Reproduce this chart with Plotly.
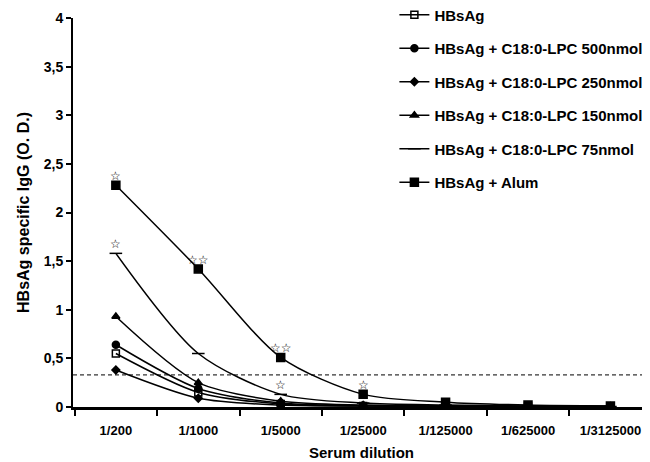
import plotly.graph_objects as go

categories = ["1/200", "1/1000", "1/5000", "1/25000", "1/125000", "1/625000", "1/3125000"]
hbsag = [0.55, 0.15, 0.03, 0.01, 0.01, 0.005, 0.005]
lpc500 = [0.64, 0.19, 0.04, 0.015, 0.01, 0.005, 0.005]
lpc250 = [0.38, 0.09, 0.02, 0.01, 0.005, 0.005, 0.005]
lpc150 = [0.93, 0.25, 0.06, 0.02, 0.01, 0.005, 0.005]
lpc75 = [1.58, 0.55, 0.13, 0.04, 0.02, 0.01, 0.005]
alum = [2.28, 1.42, 0.51, 0.13, 0.05, 0.02, 0.01]
cutoff = 0.33

y_ticks = [0, 0.5, 1, 1.5, 2, 2.5, 3, 3.5, 4]
y_ticktext = ["0", "0,5", "1", "1,5", "2", "2,5", "3", "3,5", "4"]

series = [
    ("HBsAg", hbsag, "square-open", 7),
    ("HBsAg + C18:0-LPC 500nmol", lpc500, "circle", 7),
    ("HBsAg + C18:0-LPC 250nmol", lpc250, "diamond", 6),
    ("HBsAg + C18:0-LPC 150nmol", lpc150, "triangle-up", 7),
    ("HBsAg + C18:0-LPC 75nmol", lpc75, "line-ew", 9),
    ("HBsAg + Alum", alum, "square", 8),
]

stars = [
    ("HBsAg + Alum", 0, "☆"),
    ("HBsAg + C18:0-LPC 75nmol", 0, "☆"),
    ("HBsAg + Alum", 1, "☆☆"),
    ("HBsAg + Alum", 2, "☆☆"),
    ("HBsAg + C18:0-LPC 75nmol", 2, "☆"),
    ("HBsAg + Alum", 3, "☆"),
]

fig = go.Figure()
for i, (name, vals, sym, size) in enumerate(series):
    fig.add_trace(go.Scatter(
        x=categories, y=vals, name=name, mode="lines+markers",
        line=dict(color="black", width=1.5, shape="spline", smoothing=0.8),
        marker=dict(symbol=sym, size=size, color="black",
                    line=dict(color="black", width=1.5)),
        legendgroup=f"g{i}",
    ))

lookup = {name: vals for name, vals, _, _ in series}
for name, idx, txt in stars:
    fig.add_annotation(x=categories[idx], y=lookup[name][idx], text=txt,
                       showarrow=False, yshift=9,
                       font=dict(family="DejaVu Sans", size=12, color="black", weight="bold"))

fig.add_shape(type="line", xref="paper", x0=0, x1=1, yref="y", y0=cutoff, y1=cutoff,
              line=dict(color="black", width=1, dash="4px,3px"))

fig.update_layout(
    width=642, height=454,
    margin=dict(l=65, r=0, t=10, b=55, autoexpand=False),
    paper_bgcolor="white", plot_bgcolor="white",
    font=dict(family="Liberation Sans", color="black"),
    showlegend=True,
    legend=dict(x=0.557, y=1.05, xanchor="left", yanchor="top",
                font=dict(family="Liberation Sans", size=15, weight="bold"),
                tracegroupgap=11, bgcolor="rgba(0,0,0,0)"),
    xaxis=dict(type="category", range=[-0.52, 6.48], tickson="boundaries",
               showline=True, linecolor="black", linewidth=3,
               ticks="outside", ticklen=6, tickwidth=2, tickcolor="black",
               ticklabelstandoff=9,
               showgrid=False, zeroline=False,
               tickfont=dict(family="Liberation Sans", size=13, weight="bold"),
               title=dict(text="Serum dilution", standoff=11,
                          font=dict(family="Liberation Sans", size=15, weight="bold"))),
    yaxis=dict(range=[0, 4], tickvals=y_ticks, ticktext=y_ticktext,
               showline=True, linecolor="black", linewidth=2,
               ticks="outside", ticklen=5, tickwidth=2, tickcolor="black",
               showgrid=False, zeroline=False,
               tickfont=dict(family="Liberation Sans", size=14, weight="bold"),
               title=dict(text="HBsAg specific IgG (O. D.)", standoff=10,
                          font=dict(family="Liberation Sans", size=16, weight="bold"))),
)

fig.write_html("out.html")
